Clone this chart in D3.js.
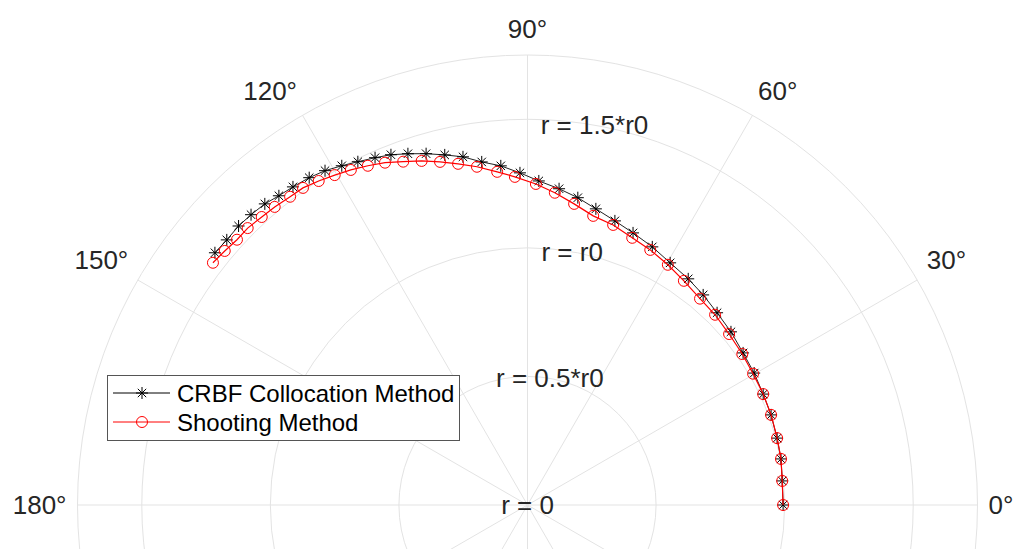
<!DOCTYPE html>
<html>
<head>
<meta charset="utf-8">
<script src="https://cdn.jsdelivr.net/npm/d3@7"></script>
<style>
  body { margin: 0; background: #fff; }
  text { font-family: "Liberation Sans", Arial, Helvetica, sans-serif; fill: #262626; }
</style>
</head>
<body>
<script>
var width = 1013,
    height = 549;

// polar data: theta in degrees, r in units of r0
var thetaCRBF = [0, 5.4, 10.3, 15.0, 20.3, 25.2, 30.2, 35.2, 40.4, 45.4,
                 50.1, 54.6, 59.5, 64.2, 68.8, 72.9, 77.0, 80.7, 84.3, 88.0,
                 91.3, 94.5, 97.6, 100.5, 103.3, 106.1, 108.8, 111.3, 113.7, 116.3,
                 118.7, 121.2, 123.7, 126.4, 128.8, 131.1, 133.6, 136.0, 138.6, 141.1];
var rCRBF = [0.994, 0.995, 1.002, 1.005, 1.010, 1.013, 1.020, 1.026, 1.039, 1.050,
             1.065, 1.079, 1.093, 1.115, 1.135, 1.156, 1.182, 1.211, 1.236, 1.261,
             1.292, 1.323, 1.346, 1.377, 1.399, 1.422, 1.443, 1.462, 1.475, 1.489,
             1.504, 1.520, 1.530, 1.537, 1.543, 1.554, 1.559, 1.562, 1.559, 1.562];

var thetaShoot = [0, 5.4, 10.3, 15.0, 20.3, 25.2, 30.2, 35.1, 40.3, 45.4,
                  50.1, 55.1, 59.7, 64.3, 68.6, 73.0, 77.2, 81.2, 85.0, 88.5,
                  92.2, 95.2, 98.5, 101.5, 104.3, 107.1, 109.9, 112.6, 115.2, 117.8,
                  120.3, 122.8, 125.3, 127.6, 130.3, 132.7, 135.3, 137.6, 140.0, 142.4];
var rShoot = [0.994, 0.995, 1.002, 1.005, 1.010, 1.013, 1.015, 1.021, 1.028, 1.039,
              1.046, 1.063, 1.082, 1.101, 1.116, 1.139, 1.153, 1.185, 1.219, 1.249,
              1.277, 1.301, 1.330, 1.354, 1.377, 1.400, 1.420, 1.442, 1.458, 1.473,
              1.486, 1.499, 1.511, 1.513, 1.520, 1.524, 1.531, 1.530, 1.537, 1.544];

var rTicks = [0, 0.5, 1, 1.5];
var rTickLabels = ["r = 0", "r = 0.5*r0", "r = r0", "r = 1.5*r0"];
var rMax = 1.75;
var thetaTicks = [0, 30, 60, 90, 120, 150, 180, 210, 240, 270, 300, 330];

var cx = 527.5, cy = 505;

var svg = d3.select("body").append("svg")
    .attr("width", width)
    .attr("height", height);

var r = d3.scaleLinear().domain([0, rMax]).range([0, 450]);
var rad = d => d * Math.PI / 180;

var g = svg.append("g").attr("transform", "translate(" + cx + "," + cy + ")");

// grid circles
g.selectAll(".ring")
    .data(rTicks.slice(1).concat([rMax]))
    .enter().append("circle")
    .attr("r", d => r(d))
    .attr("fill", "none")
    .attr("stroke", "#e3e3e3")
    .attr("stroke-width", 1);

// spokes
g.selectAll(".spoke")
    .data(thetaTicks)
    .enter().append("line")
    .attr("x1", 0).attr("y1", 0)
    .attr("x2", d => r(rMax) * Math.cos(rad(d)))
    .attr("y2", d => -r(rMax) * Math.sin(rad(d)))
    .attr("stroke", "#e3e3e3")
    .attr("stroke-width", 1);

// theta labels
var labR = r(rMax) + 11;
g.selectAll(".tlab")
    .data(thetaTicks.filter(d => d <= 180))
    .enter().append("text")
    .attr("x", d => labR * Math.cos(rad(d)))
    .attr("y", d => {
        var s = Math.sin(rad(d));
        return s > 0.01 ? -labR * s - 6 : 0;
    })
    .attr("text-anchor", d => {
        var c = Math.cos(rad(d));
        return c > 0.01 ? "start" : (c < -0.01 ? "end" : "middle");
    })
    .attr("dominant-baseline", d => Math.sin(rad(d)) > 0.01 ? "alphabetic" : "central")
    .style("font-size", "26px")
    .text(d => d + "°");

// r labels along 80 degrees
g.selectAll(".rlab")
    .data(rTicks)
    .enter().append("text")
    .attr("x", d => r(d) * Math.cos(rad(80)))
    .attr("y", d => -r(d) * Math.sin(rad(80)))
    .attr("text-anchor", "middle")
    .attr("dominant-baseline", "central")
    .style("font-size", "26px")
    .text((d, i) => rTickLabels[i]);

function toXY(th, rr) {
    return th.map((t, i) => [r(rr[i]) * Math.cos(rad(t)), -r(rr[i]) * Math.sin(rad(t))]);
}
var ptsCRBF = toXY(thetaCRBF, rCRBF);
var ptsShoot = toXY(thetaShoot, rShoot);

var line = d3.line();
var star = "M-6,0L6,0M0,-6L0,6M-4.2,-4.2L4.2,4.2M-4.2,4.2L4.2,-4.2";

// CRBF series
g.append("path").attr("d", line(ptsCRBF))
    .attr("fill", "none").attr("stroke", "#222").attr("stroke-width", 1);
g.selectAll(".star").data(ptsCRBF).enter().append("path")
    .attr("transform", d => "translate(" + d[0] + "," + d[1] + ")")
    .attr("d", star)
    .attr("stroke", "#000").attr("stroke-width", 1).attr("fill", "none");

// Shooting series
g.append("path").attr("d", line(ptsShoot))
    .attr("fill", "none").attr("stroke", "#ff0000").attr("stroke-width", 1.2);
g.selectAll(".circ").data(ptsShoot).enter().append("circle")
    .attr("cx", d => d[0]).attr("cy", d => d[1]).attr("r", 5.5)
    .attr("stroke", "#ff0000").attr("stroke-width", 1).attr("fill", "none");

// legend
var leg = svg.append("g");
leg.append("rect")
    .attr("x", 107.5).attr("y", 375.5).attr("width", 352).attr("height", 65)
    .attr("fill", "#fff").attr("stroke", "#555").attr("stroke-width", 1);

var legItems = [
    {name: "CRBF Collocation Method", color: "#000", mark: "star"},
    {name: "Shooting Method", color: "#ff0000", mark: "circle"}
];
legItems.forEach(function(it, i) {
    var y = 393 + i * 29;
    leg.append("line").attr("x1", 113).attr("x2", 170).attr("y1", y).attr("y2", y)
        .attr("stroke", it.color).attr("stroke-width", 1);
    if (it.mark == "star") {
        leg.append("path").attr("transform", "translate(142," + y + ")").attr("d", star)
            .attr("stroke", it.color).attr("fill", "none");
    } else {
        leg.append("circle").attr("cx", 142).attr("cy", y).attr("r", 5.5)
            .attr("stroke", it.color).attr("fill", "none");
    }
    leg.append("text").attr("x", 177).attr("y", y)
        .attr("dominant-baseline", "central")
        .style("font-size", "24px")
        .style("fill", "#000")
        .text(it.name);
});
</script>
</body>
</html>
